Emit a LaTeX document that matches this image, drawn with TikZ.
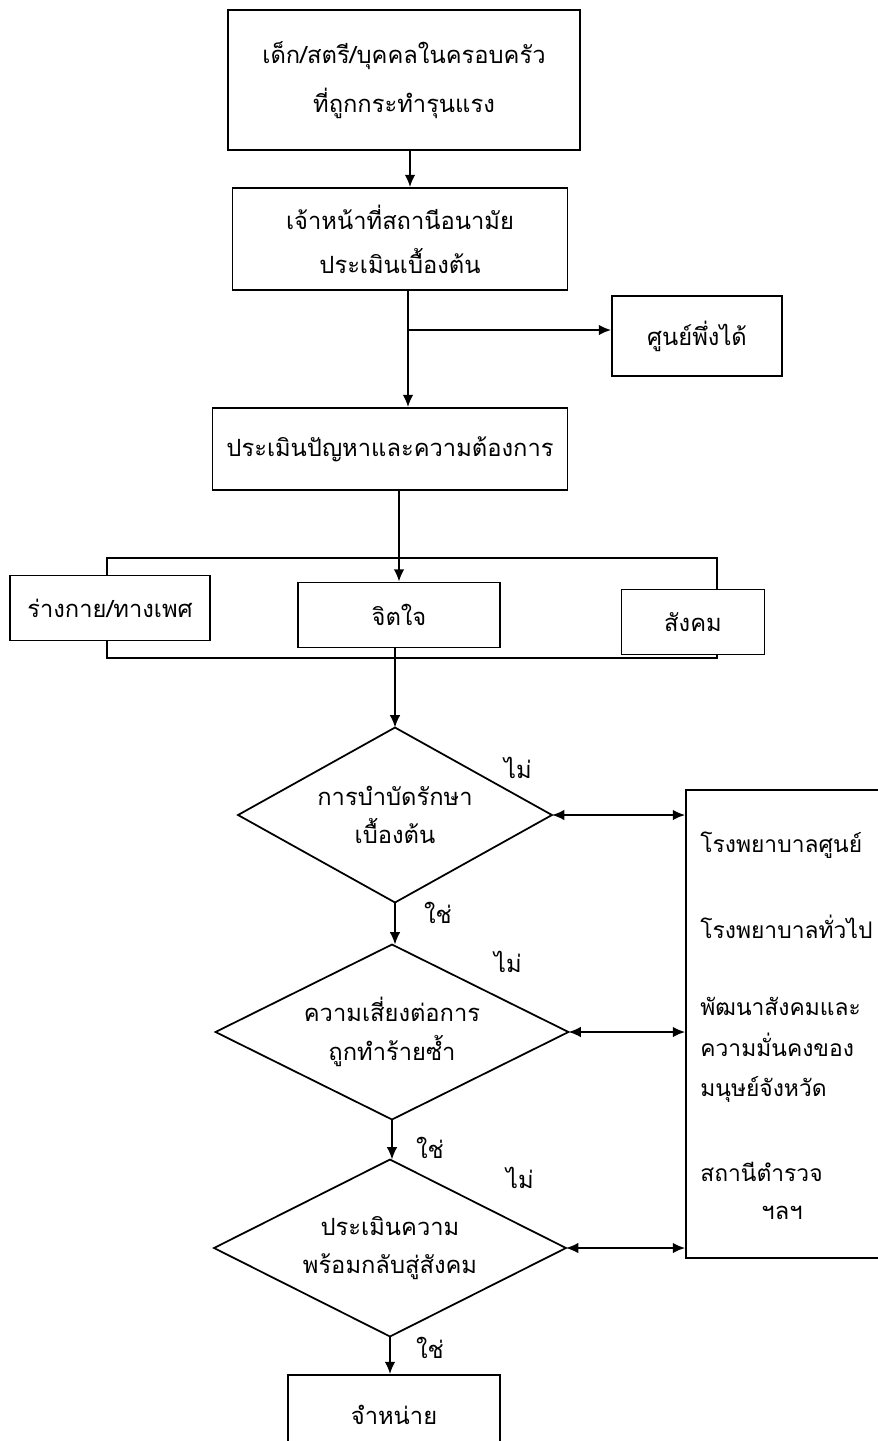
\documentclass[tikz,border=0pt]{standalone}
\usepackage{fontspec}
\newfontfamily\thaifont[Script=Thai]{Loma}
\usetikzlibrary{shapes.geometric, arrows.meta}

\begin{document}
\begin{tikzpicture}[
    x=0.02cm, y=-0.02cm,
    every node/.style={font=\thaifont\fontsize{13.5}{22}\selectfont},
    box/.style={draw, line width=1pt, align=center, inner sep=0pt},
    decision/.style={draw, diamond, line width=1pt, inner sep=0pt, outer sep=0pt},
    dtext/.style={align=center, inner sep=0pt},
    reftext/.style={anchor=west, align=left, inner sep=0pt, font=\thaifont\fontsize{13}{23}\selectfont},
    lbl/.style={inner sep=0pt},
    link/.style={line width=1pt},
    arr/.style={-{Latex[length=7pt, width=6pt]}, line width=1pt},
    darr/.style={{Latex[length=7pt, width=6pt]}-{Latex[length=7pt, width=6pt]}, line width=1pt},
]
\useasboundingbox (0,0) rectangle (878,1441);

% === Intake ===
\node[box, minimum width=7.04cm, minimum height=2.8cm] at (404, 80) (victim)
    {เด็ก/สตรี/บุคคลในครอบครัว\\[6pt]ที่ถูกกระทำรุนแรง};
\node[box, minimum width=6.7cm, minimum height=2.04cm] at (400, 239) (officer)
    {เจ้าหน้าที่สถานีอนามัย\\[3pt]ประเมินเบื้องต้น};
\node[box, minimum width=3.4cm, minimum height=1.6cm] at (697, 336) (onestop) {ศูนย์พึ่งได้};
\node[box, minimum width=7.1cm, minimum height=1.64cm] at (390, 449) (assess)
    {ประเมินปัญหาและความต้องการ};
\coordinate (split) at (408, 330);

\draw[arr] (victim.south -| 410,0) -- (officer.north -| 410,0);
\draw[arr] (officer.south -| split) -- (assess.north -| split);
\draw[arr] (split) -- (split -| onestop.west);

% === Three kinds of need ===
\node[box, minimum width=4cm, minimum height=1.3cm] at (110, 608) (physical) {ร่างกาย/ทางเพศ};
\node[box, minimum width=4.04cm, minimum height=1.3cm] at (399, 615) (mental) {จิตใจ};
\node[box, minimum width=2.86cm, minimum height=1.3cm] at (693, 622) (social) {สังคม};
\coordinate (brtl) at (107, 558);
\coordinate (brtr) at (717, 558);
\coordinate (brbl) at (107, 658);
\coordinate (brbr) at (717, 658);

\draw[link] (physical.north -| brtl) -- (brtl) -- (brtr) -- (social.north -| brtr);
\draw[link] (physical.south -| brbl) -- (brbl) -- (brbr) -- (social.south -| brbr);
\draw[arr] (assess.south -| mental) -- (mental.north);

% === Decisions ===
\node[decision, minimum width=6.28cm, minimum height=3.5cm,
    label={[dtext]center:การบำบัดรักษา\\เบื้องต้น}] at (395, 815) (treat) {};
\node[decision, minimum width=7.06cm, minimum height=3.5cm,
    label={[dtext]center:ความเสี่ยงต่อการ\\ถูกทำร้ายซ้ำ}] at (392, 1032) (risk) {};
\node[decision, minimum width=7.04cm, minimum height=3.54cm,
    label={[dtext]center:ประเมินความ\\พร้อมกลับสู่สังคม}] at (390, 1248) (ready) {};
\node[box, minimum width=4.24cm, minimum height=1.6cm] at (394, 1415) (discharge) {จำหน่าย};

\draw[arr] (mental.south -| treat.north) -- (treat.north);
\draw[arr] (treat.south) -- (risk.north -| treat.south);
\draw[arr] (risk.south) -- (ready.north -| risk.south);
\draw[arr] (ready.south) -- (discharge.north -| ready.south);

\node[lbl] at (518, 768) (no1) {ไม่};
\node[lbl] at (438, 913) (yes1) {ใช่};
\node[lbl] at (508, 962) (no2) {ไม่};
\node[lbl] at (430, 1148) (yes2) {ใช่};
\node[lbl] at (520, 1178) (no3) {ไม่};
\node[lbl] at (430, 1348) (yes3) {ใช่};

% === Referral ===
\node[draw, line width=1pt, minimum width=4.28cm, minimum height=9.36cm] at (793, 1024) (refer) {};
\node[reftext] at (700, 845) (hosp1) {โรงพยาบาลศูนย์};
\node[reftext] at (700, 927) (hosp2) {โรงพยาบาลทั่วไป};
\node[reftext] at (700, 1050) (social2) {พัฒนาสังคมและ\\ความมั่นคงของ\\มนุษย์จังหวัด};
\node[reftext] at (700, 1172) (police) {สถานีตำรวจ};
\node[lbl] at (782, 1213) (etc) {ฯลฯ};

\draw[darr] (treat.east) -- (treat.east -| refer.west);
\draw[darr] (risk.east) -- (risk.east -| refer.west);
\draw[darr] (ready.east) -- (ready.east -| refer.west);

\end{tikzpicture}
\end{document}
